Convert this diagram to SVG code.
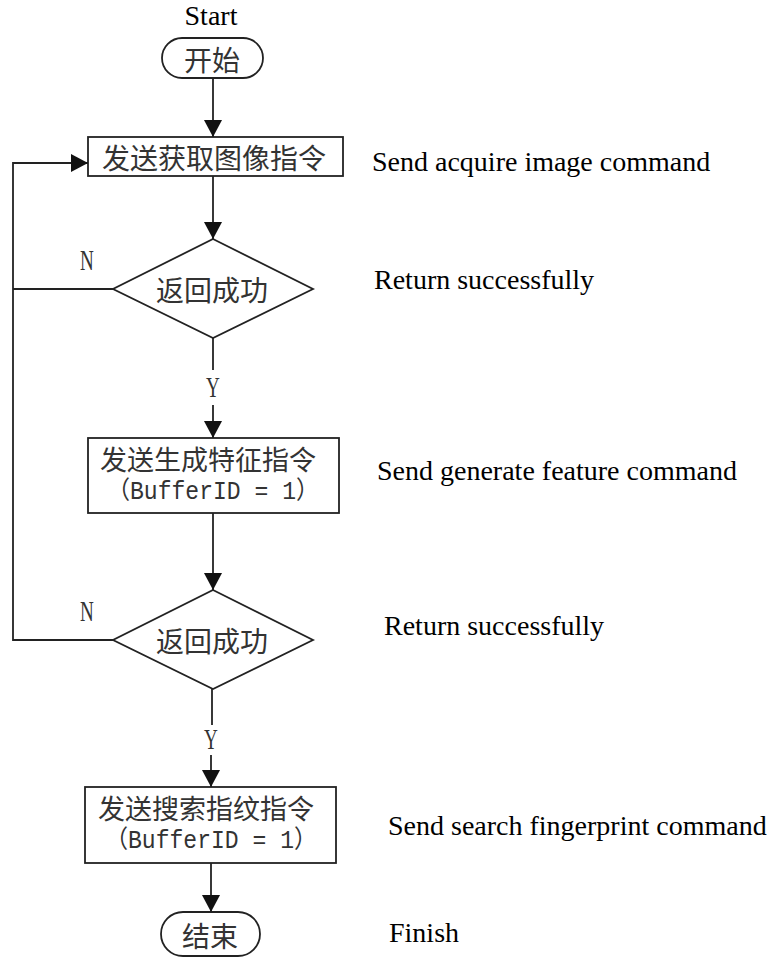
<svg xmlns="http://www.w3.org/2000/svg" width="777" height="961" viewBox="0 0 777 961">
<style>
.shape{fill:#fff;stroke:#222;stroke-width:1.8}
.conn{fill:none;stroke:#222;stroke-width:1.8}
.cjk{font-family:"Noto Sans CJK SC","Noto Sans CJK JP",sans-serif;fill:#333;text-anchor:middle;dominant-baseline:central}
.mono{font-family:"Liberation Mono","Noto Sans CJK SC",monospace;font-size:25px;fill:#333;text-anchor:middle;dominant-baseline:central}
.en{font-family:"Liberation Serif","Times New Roman",serif;font-size:28px;fill:#000}
.yn{font-family:"Liberation Serif",serif;font-size:29px;fill:#333;text-anchor:middle}
</style>
<defs>
<marker id="arrow" markerUnits="userSpaceOnUse" markerWidth="18" markerHeight="18" viewBox="0 0 18 18" refX="17" refY="9" orient="auto">
<path d="M0,0 L17,9 L0,18 Z" fill="#111"/>
</marker>
</defs>

<text class="en" x="211" y="25" text-anchor="middle">Start</text>

<g id="start">
<rect class="shape" x="162" y="38" width="101" height="40" rx="20" ry="20"/>
<text class="cjk" x="212" y="59" font-size="28">开始</text>
</g>

<g id="acquire">
<rect class="shape" x="88" y="137" width="255" height="39"/>
<text class="cjk" x="214" y="157" font-size="28">发送获取图像指令</text>
</g>

<g id="check1">
<polygon class="shape" points="213,239 313,289 213,338 113,289"/>
<text class="cjk" x="212" y="289" font-size="28">返回成功</text>
</g>

<g id="generate">
<rect class="shape" x="88" y="438" width="251" height="75"/>
<text class="cjk" x="208" y="458" font-size="27">发送生成特征指令</text>
<text class="mono" x="213" y="492" textLength="212" lengthAdjust="spacingAndGlyphs">（BufferID = 1）</text>
</g>

<g id="check2">
<polygon class="shape" points="213,590 313,640 213,689 113,640"/>
<text class="cjk" x="212" y="640" font-size="28">返回成功</text>
</g>

<g id="search">
<rect class="shape" x="85" y="787" width="251" height="76"/>
<text class="cjk" x="206" y="807" font-size="27">发送搜索指纹指令</text>
<text class="mono" x="211" y="841" textLength="212" lengthAdjust="spacingAndGlyphs">（BufferID = 1）</text>
</g>

<g id="end">
<rect class="shape" x="161" y="912" width="99" height="44" rx="22" ry="22"/>
<text class="cjk" x="210" y="935" font-size="28">结束</text>
</g>

<g id="connectors">
<path class="conn" d="M213,78 V137" marker-end="url(#arrow)"/>
<path class="conn" d="M213,176 V239" marker-end="url(#arrow)"/>
<path class="conn" d="M213,338 V370"/>
<path class="conn" d="M213,405 V438" marker-end="url(#arrow)"/>
<path class="conn" d="M213,513 V590" marker-end="url(#arrow)"/>
<path class="conn" d="M212,689 V725"/>
<path class="conn" d="M211,755 V787" marker-end="url(#arrow)"/>
<path class="conn" d="M211,863 V912" marker-end="url(#arrow)"/>
<path class="conn" d="M113,289 H13"/>
<path class="conn" d="M113,640 H13 V163 H88" marker-end="url(#arrow)"/>
<text class="yn" transform="translate(87,270) scale(0.66,1)">N</text>
<text class="yn" transform="translate(87,621) scale(0.66,1)">N</text>
<text class="yn" transform="translate(213,397) scale(0.66,1)">Y</text>
<text class="yn" transform="translate(211,749) scale(0.66,1)">Y</text>
</g>

<text class="en" x="372" y="171">Send acquire image command</text>
<text class="en" x="374" y="289">Return successfully</text>
<text class="en" x="377" y="480">Send generate feature command</text>
<text class="en" x="384" y="635">Return successfully</text>
<text class="en" x="388" y="835">Send search fingerprint command</text>
<text class="en" x="389" y="942">Finish</text>
</svg>
